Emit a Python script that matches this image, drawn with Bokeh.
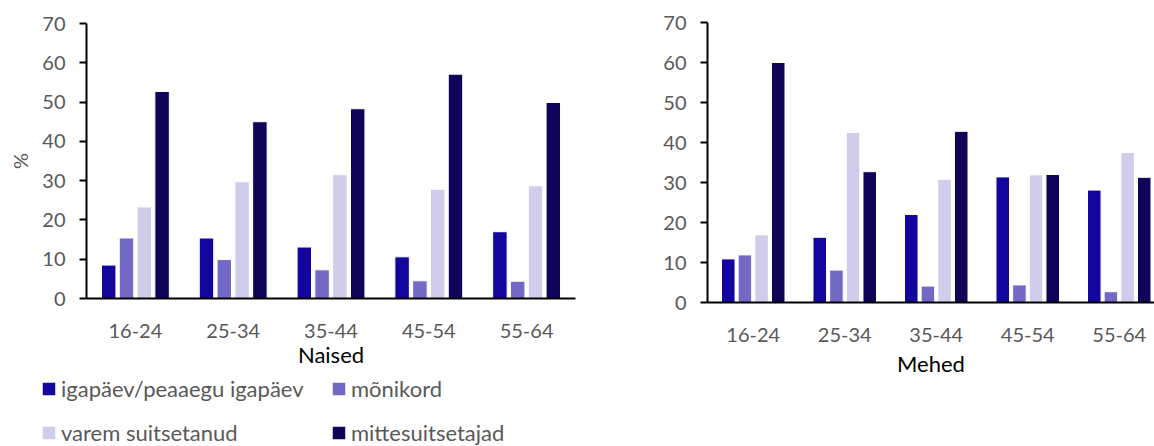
from bokeh.plotting import figure
from bokeh.layouts import row, column
from bokeh.models import Range1d, FixedTicker, Legend, LegendItem, ColumnDataSource
from bokeh.embed import file_html
from bokeh.resources import INLINE

age_groups = ["16-24", "25-34", "35-44", "45-54", "55-64"]
series_names = ["igapäev/peaaegu igapäev", "mõnikord", "varem suitsetanud", "mittesuitsetajad"]
colors = ["#12069E", "#7169C4", "#CFCDEB", "#0E0558"]

women_daily = [8.5, 15.4, 13.1, 10.6, 17.0]
women_sometimes = [15.4, 9.9, 7.3, 4.5, 4.4]
women_former = [23.3, 29.7, 31.5, 27.8, 28.7]
women_never = [52.7, 45.0, 48.3, 57.1, 49.9]

men_daily = [10.9, 16.3, 22.0, 31.4, 28.1]
men_sometimes = [11.9, 8.1, 4.1, 4.4, 2.7]
men_former = [16.9, 42.5, 30.8, 31.9, 37.5]
men_never = [60.0, 32.7, 42.8, 32.0, 31.3]

y_ticks = [0, 10, 20, 30, 40, 50, 60, 70]

FONT = "Lato"
GRAY = "#595959"
PITCH = 0.182
BAR_W = 0.148
OFFSETS = [-1.5 * PITCH, -0.5 * PITCH, 0.5 * PITCH, 1.5 * PITCH]


def make_chart(series, xlabel, width, height, x_end, mb_left, mb_top, mb_bottom, mb_right,
               ylabel=None, label_standoff=6):
    p = figure(width=width, height=height, output_backend="svg", toolbar_location=None,
               x_range=Range1d(0, x_end), y_range=Range1d(0, 70),
               min_border_left=mb_left, min_border_top=mb_top,
               min_border_bottom=mb_bottom, min_border_right=mb_right)
    p.frame_align = False
    centers = [i + 0.5 for i in range(len(age_groups))]
    renderers = []
    for vals, off, col in zip(series, OFFSETS, colors):
        src = ColumnDataSource(dict(x=[c + off for c in centers], top=vals))
        r = p.vbar(x="x", top="top", width=BAR_W, bottom=0, source=src,
                   fill_color=col, line_color="white", line_width=1)
        renderers.append(r)
    p.xgrid.grid_line_color = None
    p.ygrid.grid_line_color = None
    p.outline_line_color = None
    p.background_fill_color = "white"
    p.border_fill_color = "white"

    xa = p.xaxis[0]
    xa.ticker = FixedTicker(ticks=centers)
    xa.major_label_overrides = {c: g for c, g in zip(centers, age_groups)}
    xa.axis_line_color = "black"
    xa.axis_line_width = 2
    xa.major_tick_line_color = None
    xa.minor_tick_line_color = None
    xa.major_label_text_font = FONT
    xa.major_label_text_font_size = "20px"
    xa.major_label_text_color = GRAY
    xa.major_label_standoff = 19
    xa.axis_label = xlabel
    xa.axis_label_text_font = FONT
    xa.axis_label_text_font_size = "22px"
    xa.axis_label_text_font_style = "normal"
    xa.axis_label_text_color = "black"
    xa.axis_label_standoff = label_standoff

    ya = p.yaxis[0]
    ya.ticker = FixedTicker(ticks=y_ticks)
    ya.axis_line_color = "black"
    ya.axis_line_width = 2
    ya.major_tick_line_color = "black"
    ya.major_tick_line_width = 2
    ya.major_tick_out = 7
    ya.major_tick_in = 0
    ya.minor_tick_line_color = None
    ya.major_label_text_font = FONT
    ya.major_label_text_font_size = "20px"
    ya.major_label_text_color = GRAY
    ya.major_label_standoff = 14
    if ylabel:
        ya.axis_label = ylabel
        ya.axis_label_text_font = FONT
        ya.axis_label_text_font_size = "20px"
        ya.axis_label_text_font_style = "normal"
        ya.axis_label_text_color = GRAY
        ya.axis_label_standoff = 7
    return p, renderers


left, _ = make_chart([women_daily, women_sometimes, women_former, women_never], "Naised",
                     width=640, height=370, x_end=5,
                     mb_left=86, mb_top=23, mb_bottom=71, mb_right=65, ylabel="%",
                     label_standoff=0)

right, _ = make_chart([men_daily, men_sometimes, men_former, men_never], "Mehed",
                      width=514, height=446, x_end=447 / 91.5,
                      mb_left=67, mb_top=22, mb_bottom=144, mb_right=0,
                      label_standoff=5)

# legend panel below the left chart
lg = figure(width=640, height=76, output_backend="svg", toolbar_location=None,
            x_range=Range1d(0, 1), y_range=Range1d(0, 1),
            x_axis_type=None, y_axis_type=None,
            min_border_left=0, min_border_right=0, min_border_top=0, min_border_bottom=0)
lg.frame_align = False
lg.xgrid.grid_line_color = None
lg.ygrid.grid_line_color = None
lg.outline_line_color = None

legend_positions = [(40, 44), (330, 44), (40, 0), (330, 0)]
for name, col, loc in zip(series_names, colors, legend_positions):
    src = ColumnDataSource(dict(x=[-5.0], top=[0.0]))
    r = lg.vbar(x="x", top="top", width=0.1, source=src,
                fill_color=col, line_color="white", line_width=1)
    leg = Legend(items=[LegendItem(label=name, renderers=[r])], location=loc,
                 padding=0, margin=0, border_line_color=None, background_fill_alpha=0,
                 glyph_width=17, glyph_height=17, label_standoff=4, label_height=22,
                 label_text_font=FONT, label_text_font_size="22px", label_text_color=GRAY)
    lg.add_layout(leg)

layout = row(column(left, lg), right)
open("out.html", "w").write(file_html(layout, INLINE))
